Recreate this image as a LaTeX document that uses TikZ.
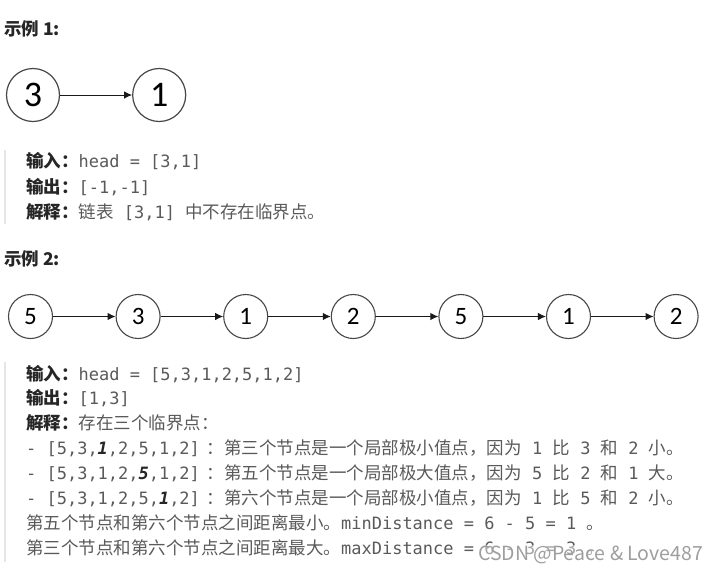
\documentclass[tikz,border=0pt]{standalone}
\usepackage{fontspec}
\setmainfont{Noto Sans CJK SC}
\setmonofont{DejaVu Sans Mono}[Scale=0.97]
\newfontfamily\digitfont{Carlito}
\usetikzlibrary{arrows.meta,positioning}
\definecolor{bodygray}{HTML}{5A5A5A}
\definecolor{labelblack}{HTML}{262626}
\newcommand\lbl[1]{{\bfseries\color{labelblack}#1}}
\newcommand\hl[1]{{\bfseries\itshape\color{labelblack}#1}}

\begin{document}
\begin{tikzpicture}[x=1pt,y=-1pt,>={Latex[length=8pt,width=7.5pt]},
bigcell/.style={circle,draw=black!72,line width=1.2pt,minimum size=53pt,inner sep=0pt,font=\digitfont\fontsize{36}{36}\selectfont},
cell/.style={circle,draw=black!72,line width=1.1pt,minimum size=44pt,inner sep=0pt,font=\digitfont\fontsize{25}{25}\selectfont},
link/.style={->,line width=1pt,black!90},
heading/.style={anchor=base west,inner sep=0pt,font=\bfseries\fontsize{17.5}{20}\selectfont,text=labelblack},
txt/.style={anchor=base west,inner sep=0pt,font=\fontsize{17.5}{24.9}\selectfont,text=bodygray}]
\fill[white] (0,0) rectangle (720,571);
% example 1
\node[heading] (head1) at (4,35.5) {示例 1:};
\node[bigcell] (a1) at (33,95) {3};
\node[bigcell,right=72pt of a1] (a2) {1};
\draw[link] (a1) -- (a2);
\fill[black!10] (3.5,150) rectangle (6,224);
\node[txt] (in1) at (26,167.5) {\lbl{输入：}\texttt{head = [3,1]}};
\node[txt] (out1) at (26,193) {\lbl{输出：}\texttt{[-1,-1]}};
\node[txt] (why1) at (26,218) {\lbl{解释：}链表\texttt{ [3,1] }中不存在临界点。};
% example 2
\node[heading] (head2) at (4,265) {示例 2:};
\node[cell] (b1) at (30.5,316.5) {5};
\node[cell,right=62.5pt of b1] (b2) {3};
\node[cell,right=62.5pt of b2] (b3) {1};
\node[cell,right=62.5pt of b3] (b4) {2};
\node[cell,right=62.5pt of b4] (b5) {5};
\node[cell,right=62.5pt of b5] (b6) {1};
\node[cell,right=62.5pt of b6] (b7) {2};
\draw[link] (b1) -- (b2);
\draw[link] (b2) -- (b3);
\draw[link] (b3) -- (b4);
\draw[link] (b4) -- (b5);
\draw[link] (b5) -- (b6);
\draw[link] (b6) -- (b7);
\fill[black!10] (3.5,362) rectangle (6,562);
\node[txt] (in2) at (26,380) {\lbl{输入：}\texttt{head = [5,3,1,2,5,1,2]}};
\node[txt] (out2) at (26,404.9) {\lbl{输出：}\texttt{[1,3]}};
\node[txt] (why2) at (26,429.8) {\lbl{解释：}存在三个临界点：};
\node[txt] (p1) at (26,454.7) {\texttt{- [5,3,\hl{1},2,5,1,2]}\hspace{7pt}：第三个节点是一个局部极小值点，因为\texttt{ 1 }比\texttt{ 3 }和\texttt{ 2 }小。};
\node[txt] (p2) at (26,479.6) {\texttt{- [5,3,1,2,\hl{5},1,2]}\hspace{7pt}：第五个节点是一个局部极大值点，因为\texttt{ 5 }比\texttt{ 2 }和\texttt{ 1 }大。};
\node[txt] (p3) at (26,504.5) {\texttt{- [5,3,1,2,5,\hl{1},2]}\hspace{7pt}：第六个节点是一个局部极小值点，因为\texttt{ 1 }比\texttt{ 5 }和\texttt{ 2 }小。};
\node[txt] (mind) at (26,529.4) {第五个节点和第六个节点之间距离最小。\texttt{minDistance = 6 - 5 = 1 }。};
\node[txt] (maxd) at (26,554.3) {第三个节点和第六个节点之间距离最大。\texttt{maxDistance = 6 - 3 = 3 }。};
% watermark
\node[anchor=base west,inner sep=0pt,fill=white,fill opacity=0.45,text opacity=1,text=black!38,font=\fontsize{19.5}{19.5}\selectfont] (mark) at (478,560) {CSDN @Peace \& Love487};
\end{tikzpicture}
\end{document}
